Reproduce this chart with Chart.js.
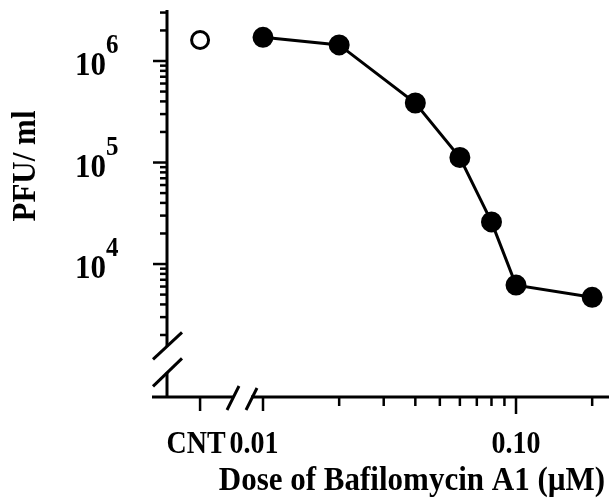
<!DOCTYPE html>
<html>
<head>
<meta charset="utf-8">
<script src="https://cdn.jsdelivr.net/npm/chart.js@4"></script>
<style>
  html, body { margin: 0; padding: 0; background: #fff; }
  canvas { display: block; }
</style>
</head>
<body>
<canvas id="doseChart" width="609" height="499"></canvas>
<script>
// Data
const doses = [0.01, 0.02, 0.04, 0.06, 0.08, 0.10, 0.20];
const pfu = [1.71e6, 1.44e6, 3.86e5, 1.12e5, 2.6e4, 6.2e3, 4.7e3];
const controlLabel = 'CNT';
const controlPfu = 1.61e6;
const yTickExponents = [4, 5, 6];
const xTickLabels = ['0.01', '0.10'];
const xMinorTicks = [0.02, 0.03, 0.04, 0.05, 0.06, 0.07, 0.08, 0.09, 0.2];

// Axis setup (log scales, control dose placed left of the axis break)
const X_MIN = 0.004174, X_MAX = 0.2331;
const Y_MIN = 490, Y_MAX = 3.18e6;
const CNT_POS = 0.00564;
const X_BREAK = 0.00826;
const Y_BREAK = 1150;
const FONT = '"Liberation Serif", "Times New Roman", serif';

function line(ctx, x1, y1, x2, y2, w) {
    ctx.lineWidth = w;
    ctx.beginPath();
    ctx.moveTo(x1, y1);
    ctx.lineTo(x2, y2);
    ctx.stroke();
}

// text in the figure is a little taller than Liberation Serif, so stretch it
function text(ctx, str, x, y, size, align, sy, rot) {
    ctx.save();
    ctx.translate(x, y);
    if (rot) ctx.rotate(rot);
    ctx.scale(1, sy);
    ctx.font = 'bold ' + size + 'px ' + FONT;
    ctx.textAlign = align;
    ctx.textBaseline = 'alphabetic';
    ctx.fillText(str, 0, 0);
    ctx.restore();
}

const paperAxes = {
    id: 'paperAxes',
    afterDraw(chart) {
        const { ctx, chartArea } = chart;
        const xs = chart.scales.x, ys = chart.scales.y;
        const ax = chartArea.left, ay = chartArea.bottom;
        ctx.save();
        ctx.strokeStyle = '#000';
        ctx.fillStyle = '#000';
        ctx.lineCap = 'butt';

        // y axis with break
        const yb = ys.getPixelForValue(Y_BREAK);
        line(ctx, ax, chartArea.top, ax, yb - 13, 3);
        line(ctx, ax, yb + 13, ax, ay, 3);
        line(ctx, ax - 14, yb + 0, ax + 15, yb - 27, 3);
        line(ctx, ax - 14, yb + 27, ax + 15, yb - 1, 3);

        // x axis with break
        const xb = xs.getPixelForValue(X_BREAK);
        line(ctx, ax - 15, ay, xb - 9, ay, 3);
        line(ctx, xb + 9, ay, chartArea.right, ay, 3);
        line(ctx, xb - 15, ay + 13, xb - 3, ay - 11, 3);
        line(ctx, xb + 4, ay + 13, xb + 15, ay - 9, 3);

        // y ticks
        for (let e = 3; e <= 6; e++) {
            for (let m = 1; m <= 9; m++) {
                const v = m * Math.pow(10, e);
                if (v < 2000 || v > 3.05e6) continue;
                const py = ys.getPixelForValue(v);
                const major = m === 1;
                line(ctx, ax - (major ? 14 : 7), py, ax, py, 2.5);
            }
        }

        // x ticks
        xMinorTicks.forEach(v => {
            const px = xs.getPixelForValue(v);
            line(ctx, px, ay, px, ay + 9, 2.5);
        });
        [CNT_POS, 0.01].forEach(v => {
            const px = xs.getPixelForValue(v);
            line(ctx, px, ay, px, ay + 14, 2.5);
        });
        const p10 = xs.getPixelForValue(0.1);
        line(ctx, p10, ay, p10, ay + 17, 2.5);

        // y tick labels 10^n
        yTickExponents.forEach(e => {
            const py = ys.getPixelForValue(Math.pow(10, e));
            text(ctx, '10', 106, py + 14, 31, 'right', 1.1);
            text(ctx, String(e), 106, py - 8, 25, 'left', 1.1);
        });

        // x tick labels
        text(ctx, controlLabel, xs.getPixelForValue(CNT_POS) - 4, ay + 56, 28, 'center', 1.15);
        text(ctx, xTickLabels[0], xs.getPixelForValue(0.01) - 9, ay + 56, 28, 'center', 1.15);
        text(ctx, xTickLabels[1], xs.getPixelForValue(0.1), ay + 56, 28, 'center', 1.15);

        // axis titles
        text(ctx, 'Dose of Bafilomycin A1 (\u00b5M)', 412, ay + 93, 31, 'center', 1.1);
        text(ctx, 'PFU/ ml', 35, 166, 31, 'center', 1.1, -Math.PI / 2);

        ctx.restore();
    }
};

const ctx = document.getElementById('doseChart').getContext('2d');
new Chart(ctx, {
    type: 'line',
    data: {
        datasets: [{
            label: 'Bafilomycin A1',
            data: doses.map((d, i) => ({ x: d, y: pfu[i] })),
            borderColor: '#000',
            backgroundColor: '#000',
            borderWidth: 3,
            pointRadius: 9.5,
            pointBorderWidth: 2,
            pointBackgroundColor: '#000',
            pointBorderColor: '#000',
            tension: 0,
            clip: false
        }, {
            label: controlLabel,
            data: [{ x: CNT_POS, y: controlPfu }],
            showLine: false,
            pointRadius: 8.5,
            pointBorderWidth: 3,
            pointBackgroundColor: '#fff',
            pointBorderColor: '#000',
            clip: false
        }]
    },
    options: {
        responsive: false,
        animation: false,
        layout: { autoPadding: false, padding: { left: 167, right: 0, top: 10, bottom: 102 } },
        plugins: { legend: { display: false }, tooltip: { enabled: false } },
        scales: {
            x: { type: 'logarithmic', min: X_MIN, max: X_MAX, display: false },
            y: { type: 'logarithmic', min: Y_MIN, max: Y_MAX, display: false }
        }
    },
    plugins: [paperAxes]
});
</script>
</body>
</html>
